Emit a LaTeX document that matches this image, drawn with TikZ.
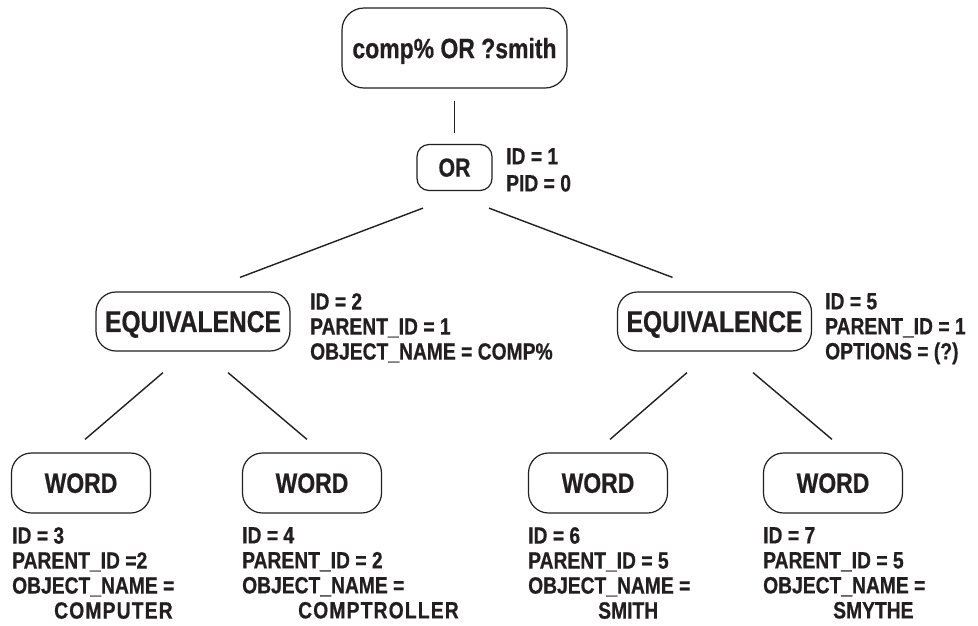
\documentclass[tikz,border=0pt]{standalone}
\usepackage{fontspec}
\setmainfont{Liberation Sans}[FakeStretch=0.82, BoldFeatures={FakeBold=0.6}]
\usetikzlibrary{calc}
\definecolor{ink}{HTML}{231F20}
\newcommand{\wname}[1]{{\addfontfeature{LetterSpace=5}#1}}
\begin{document}
\begin{tikzpicture}[x=1pt,y=-1pt,
  box/.style={draw=ink, line width=1.2pt, inner sep=0pt, text=ink, text depth=0pt},
  level/.style={box, rounded corners=20pt, minimum width=194pt, minimum height=59pt,
    font=\bfseries\fontsize{30}{32}\selectfont},
  leaf/.style={box, rounded corners=20pt, minimum width=139pt, minimum height=60pt,
    font=\bfseries\fontsize{28}{30}\selectfont},
  link/.style={draw=ink, line width=1.4pt},
  info/.style={anchor=north west, align=left, inner sep=0pt, text=ink,
    font=\bfseries\fontsize{23.5}{25}\selectfont}]

% canvas
\fill[white] (0,0) rectangle (978,625);
\useasboundingbox (0,0) rectangle (978,625);

% query and root operator
\node[box, rounded corners=22pt, minimum width=225pt, minimum height=80pt,
  font=\bfseries\fontsize{28}{30}\selectfont] (query) at (454.5,48) {comp\% OR ?smith};
\node[box, rounded corners=12pt, minimum width=75pt, minimum height=46pt,
  font=\bfseries\fontsize{26}{28}\selectfont] (or) at (454.5,167.5) {OR};
\node[info] (orinfo) at (506,148) {ID = 1\\[2pt]PID = 0};

% equivalence operators
\node[level] (eqL) at (193,321.5) {EQUIVALENCE};
\node[level] (eqR) at (714.5,321.5) {EQUIVALENCE};
\node[info] (eqLinfo) at (310,293) {ID = 2\\PARENT\_ID = 1\\OBJECT\_NAME = COMP\%};
\node[info] (eqRinfo) at (825,293) {ID = 5\\PARENT\_ID = 1\\OPTIONS = (?)};

% word leaves
\node[leaf] (w1) at (81,483) {WORD};
\node[leaf] (w2) at (312,483) {WORD};
\node[leaf] (w3) at (598,483) {WORD};
\node[leaf] (w4) at (833,483) {WORD};
\node[info] (w1info) at (12,527) {ID = 3\\PARENT\_ID =2\\OBJECT\_NAME =\\\hspace*{42pt}\wname{COMPUTER}};
\node[info] (w2info) at (242,527) {ID = 4\\PARENT\_ID = 2\\OBJECT\_NAME =\\\hspace*{56pt}\wname{COMPTROLLER}};
\node[info] (w3info) at (528,527) {ID = 6\\PARENT\_ID = 5\\OBJECT\_NAME =\\\hspace*{70pt}SMITH};
\node[info] (w4info) at (763,527) {ID = 7\\PARENT\_ID = 5\\OBJECT\_NAME =\\\hspace*{70pt}SMYTHE};

% tree edges
\draw[link] ($(query.south)+(0,12)$) -- ($(or.north)+(0,-11)$);
\draw[link] ($(or.south)+(-31.5,17)$) -- ($(eqL.north)+(47,-14)$);
\draw[link] ($(or.south)+(34.5,17)$) -- ($(eqR.north)+(-42,-14)$);
\draw[link] ($(eqL.south)+(-30,21)$) -- ($(w1.north)+(4,-13)$);
\draw[link] ($(eqL.south)+(35,21)$) -- ($(w2.north)+(-5,-13)$);
\draw[link] ($(eqR.south)+(-27.5,21)$) -- ($(w3.north)+(12,-13)$);
\draw[link] ($(eqR.south)+(38.5,21)$) -- ($(w4.north)+(-1,-13)$);
\end{tikzpicture}
\end{document}
